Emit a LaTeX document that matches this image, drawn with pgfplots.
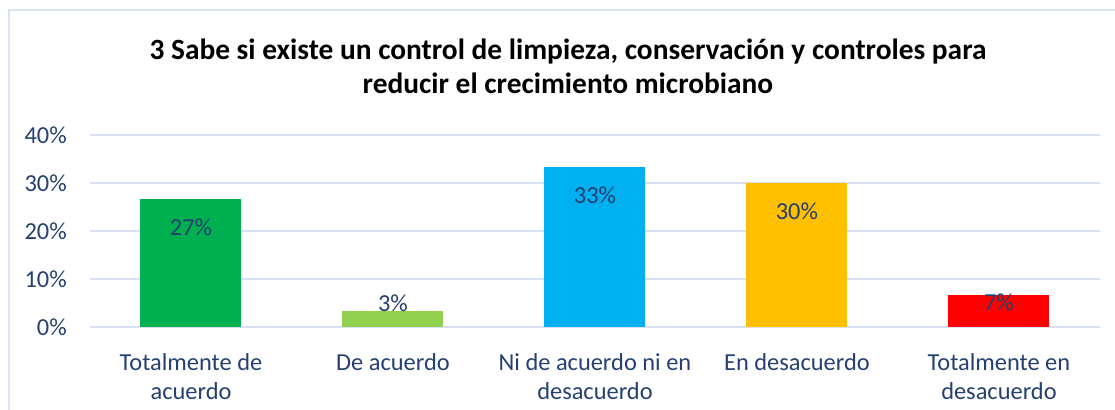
\documentclass[border=0pt]{standalone}
\usepackage{pgfplots}
\pgfplotsset{compat=1.18}
\usepackage{fontspec}
\setmainfont{Carlito}
\definecolor{txt}{RGB}{37,64,112}
\definecolor{gridc}{RGB}{217,225,242}
\definecolor{frame}{RGB}{218,227,243}
\definecolor{c1}{RGB}{0,176,80}
\definecolor{c2}{RGB}{146,208,80}
\definecolor{c3}{RGB}{0,176,240}
\definecolor{c4}{RGB}{255,192,0}
\definecolor{c5}{RGB}{255,0,0}
\begin{document}
\begin{tikzpicture}
\path[use as bounding box] (0bp,0bp) rectangle (1115bp,410bp);
\draw[frame, line width=2bp] (9bp,0bp) -- (9bp,399.5bp) -- (1115bp,399.5bp);
\node[font=\fontsize{29.5}{34}\selectfont\bfseries, align=center] at (568bp,344bp)
  {3 Sabe si existe un control de limpieza, conservación y controles para\\reducir el crecimiento microbiano};
\begin{axis}[
  at={(90bp,83bp)}, anchor=south west,
  scale only axis, width=1010bp, height=192bp,
  xmin=-0.5, xmax=4.5, ymin=0, ymax=40,
  ytick={0,10,20,30,40},
  yticklabels={0\%,10\%,20\%,30\%,40\%},
  xtick={0,1,2,3,4},
  xticklabels={Totalmente de\\acuerdo, De acuerdo, Ni de acuerdo ni en\\desacuerdo, En desacuerdo, Totalmente en\\desacuerdo},
  axis line style={draw=none},
  major tick style={draw=none},
  ymajorgrids,
  grid style={gridc, line width=1.5bp},
  ybar, bar width=101bp,
  tick label style={font=\fontsize{24.5}{29}\selectfont, text=txt},
  /pgf/number format/assume math mode=true,
  yticklabel style={anchor=east, inner sep=0pt, xshift=-23bp},
  xticklabel style={anchor=north, inner sep=0pt, yshift=-22bp, align=center},
  clip=false,
  every node near coord/.append style={font=\fontsize{24.5}{29}\selectfont, text=txt, anchor=center},
]
\addplot[bar shift=0pt, fill=c1, draw=none, nodes near coords={27\%}, every node near coord/.append style={yshift=-28bp}] coordinates {(0,26.7)};
\addplot[bar shift=0pt, fill=c2, draw=none, nodes near coords={3\%}, every node near coord/.append style={yshift=8bp}] coordinates {(1,3.3)};
\addplot[bar shift=0pt, fill=c3, draw=none, nodes near coords={33\%}, every node near coord/.append style={yshift=-28bp}] coordinates {(2,33.3)};
\addplot[bar shift=0pt, fill=c4, draw=none, nodes near coords={30\%}, every node near coord/.append style={yshift=-28bp}] coordinates {(3,30.0)};
\addplot[bar shift=0pt, fill=c5, draw=none, nodes near coords={7\%}, every node near coord/.append style={yshift=-7bp}] coordinates {(4,6.7)};
\end{axis}
\end{tikzpicture}
\end{document}
